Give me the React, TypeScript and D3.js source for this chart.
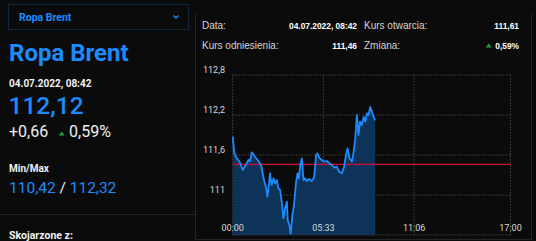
import React from "react";
import * as d3 from "d3";

const W = 536;
const H = 241;

// minutes since 00:00
const minutes = [0, 6, 15, 24, 37, 45, 58, 64, 70, 82, 94, 104, 110, 115, 123, 127, 132, 137, 143, 150, 156, 162, 168, 174, 180, 186, 192, 199, 202, 208, 213, 219, 225, 233, 238, 243, 248, 254, 260, 266, 272, 281, 290, 299, 306, 311, 319, 327, 336, 346, 355, 364, 373, 382, 391, 401, 409, 416, 422, 429, 438, 444, 450, 456, 462, 468, 474, 481, 487, 493, 499, 505, 511, 517, 523];
const prices = [111.875, 111.625, 111.55, 111.51, 111.375, 111.43, 111.525, 111.51, 111.64, 111.575, 111.51, 111.45, 111.325, 111.225, 111.1, 110.975, 111.12, 111.325, 111.15, 111.25, 111.175, 111.225, 111.1, 111.075, 110.9, 110.65, 110.8, 110.9, 110.625, 110.55, 110.42, 110.7, 110.85, 111.2, 111.325, 111.25, 111.45, 111.55, 111.225, 111.25, 111.21, 111.24, 111.21, 111.26, 111.6, 111.625, 111.55, 111.525, 111.5, 111.51, 111.475, 111.45, 111.41, 111.425, 111.35, 111.325, 111.425, 111.6, 111.7, 111.55, 111.5, 111.65, 111.85, 112.2, 111.9, 112.1, 112.05, 112.175, 112.1, 112.225, 112.2, 112.32, 112.25, 112.175, 112.12];

const referencePrice = 111.46;
const yTicks = [110.4, 111.0, 111.6, 112.2, 112.8];
const yTickLabels = ["", "111", "111,6", "112,2", "112,8"];
const xTicks = [0, 333, 666, 1020];
const xTickLabels = ["00:00", "05:33", "11:06", "17:00"];

const headerRows = [
  ["Data:", "04.07.2022, 08:42", "Kurs otwarcia:", "111,61"],
  ["Kurs odniesienia:", "111,46", "Zmiana:", "0,59%"],
];

const BLUE = "#1a8cff";
const BG = "#0b0b0b";
const LINE = "#262626";
const GREEN = "#1fa33a";
const LEFT_FONT = "Roboto, sans-serif";
const RIGHT_FONT = "'Liberation Sans', Arial, sans-serif";

export default function App() {
  const x = d3.scaleLinear().domain([0, 1020]).range([232.7, 510.5]);
  const y = d3.scaleLinear().domain([110.4, 112.8]).range([235, 75]);

  const pts = minutes.map((m, i) => [m, prices[i]] as [number, number]);
  const line = d3.line<[number, number]>().x((d) => x(d[0])).y((d) => y(d[1]));
  const area = d3
    .area<[number, number]>()
    .x((d) => x(d[0]))
    .y0(y(110.4))
    .y1((d) => y(d[1]));

  const tri = (cx: number, cy: number) =>
    `M${cx - 3},${cy + 2}L${cx + 3},${cy + 2}L${cx},${cy - 2}Z`;

  return (
    <svg
      width={W}
      height={H}
      style={{ position: "absolute", left: 0, top: 0, background: BG, display: "block" }}
    >
      <rect x={0} y={0} width={W} height={H} fill={BG} />
      {/* dropdown */}
      <rect x={8.5} y={4.5} width={180} height={25} fill="none" stroke="#0e2640" strokeWidth={1} />
      <text x={19} y={20.5} fill={BLUE} fontFamily={LEFT_FONT} fontWeight={700} fontSize={10.5}>
        Ropa Brent
      </text>
      <path d="M173.5,15.5L176,18L178.5,15.5" fill="none" stroke={BLUE} strokeWidth={1.5} />

      {/* left panel */}
      <text x={9} y={61} fill={BLUE} fontFamily={LEFT_FONT} fontWeight={700} fontSize={24}>
        Ropa Brent
      </text>
      <text x={9} y={86.5} fill="#f0f0f0" fontFamily={LEFT_FONT} fontWeight={700} fontSize={10}>
        04.07.2022, 08:42
      </text>
      <text x={8.5} y={113.5} fill={BLUE} fontFamily={LEFT_FONT} fontWeight={500} fontSize={24.5}>
        112,12
      </text>
      <text x={9} y={136.5} fill="#f0f0f0" fontFamily={LEFT_FONT} fontSize={16}>
        +0,66
      </text>
      <path d={tri(61.7, 133.5)} fill={GREEN} />
      <text x={69} y={136.5} fill="#f0f0f0" fontFamily={LEFT_FONT} fontSize={16}>
        0,59%
      </text>
      <text x={9} y={172} fill="#f0f0f0" fontFamily={LEFT_FONT} fontWeight={700} fontSize={10}>
        Min/Max
      </text>
      <text x={9} y={192.5} fill={BLUE} fontFamily={LEFT_FONT} fontSize={15.5}>
        110,42 <tspan fill="#f0f0f0">/</tspan> 112,32
      </text>
      <line x1={0} x2={195.5} y1={214.5} y2={214.5} stroke={LINE} />
      <text x={9} y={239} fill="#f0f0f0" fontFamily={LEFT_FONT} fontWeight={700} fontSize={10.5}>
        Skojarzone z:
      </text>

      {/* right panel borders */}
      <line x1={195.5} x2={195.5} y1={14} y2={239.5} stroke={LINE} />
      <line x1={195.5} x2={531.5} y1={239.5} y2={239.5} stroke={LINE} />
      <line x1={531.5} x2={531.5} y1={14} y2={239.5} stroke={LINE} />

      {/* header */}
      {headerRows.map((row, i) => {
        const by = 28.5 + i * 20;
        return (
          <g key={i}>
            <text x={202} y={by} fill="#d4d4d4" fontFamily={RIGHT_FONT} fontSize={10}>
              {row[0]}
            </text>
            <text x={357} y={by} textAnchor="end" fill="#ffffff" fontFamily={RIGHT_FONT} fontWeight={700} fontSize={8.4}>
              {row[1]}
            </text>
            <text x={364} y={by} fill="#d4d4d4" fontFamily={RIGHT_FONT} fontSize={10}>
              {row[2]}
            </text>
            <text x={519} y={by} textAnchor="end" fill="#ffffff" fontFamily={RIGHT_FONT} fontWeight={700} fontSize={8.4}>
              {row[3]}
            </text>
          </g>
        );
      })}
      <path d={tri(488.7, 45.5)} fill={GREEN} />

      {/* grid */}
      {yTicks.map((t) => (
        <line key={"gy" + t} x1={x(0)} x2={x(1020)} y1={y(t)} y2={y(t)} stroke="#444" strokeDasharray="1.5,1.5" />
      ))}
      {xTicks.map((t) => (
        <line key={"gx" + t} x1={x(t)} x2={x(t)} y1={y(112.8)} y2={y(110.4)} stroke="#444" strokeDasharray="1.5,1.5" />
      ))}

      {/* area + line */}
      <path d={area(pts) || ""} fill="#0d3358" />
      <line x1={x(0)} x2={x(1020)} y1={y(referencePrice)} y2={y(referencePrice)} stroke="#d0103a" strokeWidth={1.2} />
      <path d={line(pts) || ""} fill="none" stroke={BLUE} strokeWidth={1.8} strokeLinejoin="round" />

      {/* axis labels */}
      {yTicks.map((t, i) => (
        <text key={"ly" + t} x={225} y={y(t) - 2} textAnchor="end" fill="#d8d8d8" fontFamily={LEFT_FONT} fontSize={9}>
          {yTickLabels[i]}
        </text>
      ))}
      {xTicks.map((t, i) => (
        <text key={"lx" + t} x={x(t)} y={231} textAnchor="middle" fill="#d8d8d8" fontFamily={LEFT_FONT} fontSize={9}>
          {xTickLabels[i]}
        </text>
      ))}
    </svg>
  );
}
